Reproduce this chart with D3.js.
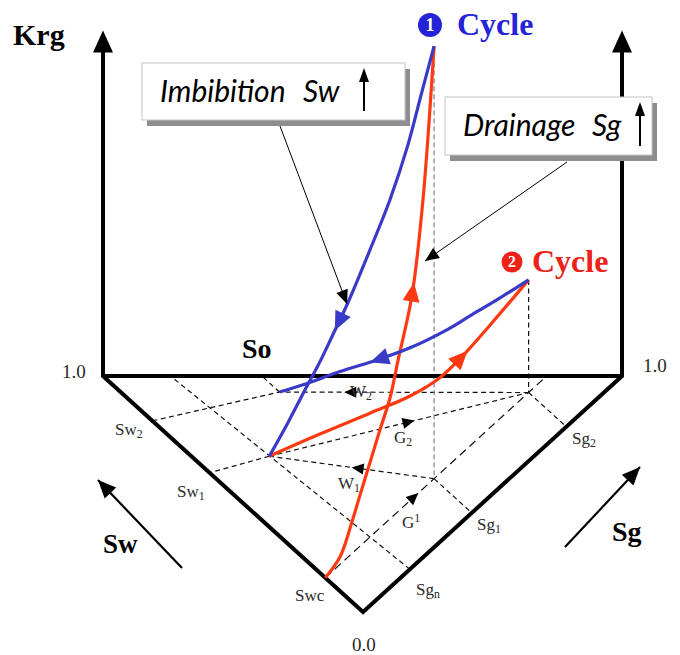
<!DOCTYPE html>
<html>
<head>
<meta charset="utf-8">
<script src="https://cdn.jsdelivr.net/npm/d3@7/dist/d3.min.js"></script>
<style>
  body { margin: 0; background: #fff; }
  svg text { font-family: "Liberation Serif", "Times New Roman", serif; }
  .box text { font-family: Lato, "Open Sans", sans-serif; font-style: italic; }
</style>
</head>
<body>
<svg id="chart" width="680" height="655"></svg>
<script>
// every point: [Sw, Sg, Krg]
const drainage1 = [
  [0.145, 0.000, 0.000], [0.145, 0.057, 0.017], [0.145, 0.103, 0.072], [0.145, 0.134, 0.116],
  [0.145, 0.173, 0.170], [0.145, 0.211, 0.223], [0.145, 0.250, 0.275], [0.145, 0.281, 0.344],
  [0.145, 0.335, 0.463], [0.145, 0.377, 0.656], [0.145, 0.420, 0.983]
];
const imbibition1 = [
  [0.145, 0.420, 0.983], [0.174, 0.399, 0.868], [0.203, 0.377, 0.750], [0.243, 0.348, 0.620],
  [0.287, 0.315, 0.500], [0.336, 0.279, 0.373], [0.369, 0.254, 0.296], [0.398, 0.233, 0.230],
  [0.431, 0.209, 0.162], [0.469, 0.180, 0.081], [0.510, 0.150, 0.000]
];
const drainage2 = [
  [0.510, 0.150, 0.000], [0.439, 0.274, 0.022], [0.368, 0.396, 0.042], [0.312, 0.495, 0.058],
  [0.270, 0.568, 0.083], [0.234, 0.629, 0.125], [0.199, 0.690, 0.175], [0.145, 0.785, 0.256]
];
const imbibition2 = [
  [0.145, 0.785, 0.256], [0.200, 0.730, 0.215], [0.258, 0.672, 0.174], [0.303, 0.628, 0.142],
  [0.374, 0.557, 0.101], [0.436, 0.495, 0.074], [0.509, 0.422, 0.047], [0.580, 0.351, 0.017],
  [0.626, 0.306, 0.000]
];

// saturation states [Sw, Sg]
const Swc = [0.145, 0], D1 = [0.145, 0.42], V1 = [0.51, 0.15], P2 = [0.145, 0.785], E2 = [0.626, 0.306];
const peak1 = 0.983, peak2 = 0.256;

// dashed construction lines [from, to]
const guides = [
  [Swc, [0.145, 0.855]],      // G' (Sw = Swc)
  [[0, 0.181], [0.87, 0.13]], // Sgn
  [V1, [0.59, 0]],            // Sw1
  [[0.81, 0], E2],            // Sw2
  [E2, [0.694, 0.306]],
  [P2, E2],                   // W2
  [V1, P2],                   // G2
  [D1, V1],                   // W1
  [D1, [0, 0.42]],            // Sg1
  [P2, [0, 0.785]]            // Sg2
];
// arrows on dashed lines: [from, to, fraction]
const guideArrows = [[P2, E2, 0.74], [V1, P2, 0.56], [D1, V1, 0.5], [Swc, [0.145, 0.855], 0.42]];

const curveArrowsAt = { drainage1: 0.55, imbibition1: 0.66, drainage2: 0.68, imbibition2: 0.62 };

const blue = "#3a3ac8", red = "#ff3a12";

// ternary + Krg projection
const swX = d3.scaleLinear().domain([0, 1]).range([0, -260]);
const sgX = d3.scaleLinear().domain([0, 1]).range([0, 259]);
const sumY = d3.scaleLinear().domain([0, 1]).range([612, 376]);
const krY = d3.scaleLinear().domain([0, 1]).range([0, 440]);
const px = (sw, sg) => 363 + swX(sw) + sgX(sg);
const py = (sw, sg, k) => sumY(sw + sg) - krY(k || 0);

const svg = d3.select("#chart");

function head(x, y, ang, len, hw, color) {
  const bx = x - len * Math.cos(ang), by = y - len * Math.sin(ang);
  const nx = -Math.sin(ang) * hw, ny = Math.cos(ang) * hw;
  svg.append("polygon")
    .attr("points", [[x, y], [bx + nx, by + ny], [bx - nx, by - ny]].map(p => p.join(",")).join(" "))
    .attr("fill", color);
}
function arrowLine(x1, y1, x2, y2, w, len, hw) {
  svg.append("line").attr("x1", x1).attr("y1", y1).attr("x2", x2).attr("y2", y2)
    .attr("stroke", "#000").attr("stroke-width", w);
  head(x2, y2, Math.atan2(y2 - y1, x2 - x1), len, hw, "#000");
}

// dashed guides
const straight = d3.line().x(d => px(d[0], d[1])).y(d => py(d[0], d[1], d[2]));
guides.forEach((g, i) => {
  svg.append("path").attr("d", straight(g)).attr("fill", "none")
    .attr("stroke", "#111").attr("stroke-width", 1.2)
    .attr("stroke-dasharray", i === 0 ? "8,5" : "5,3.5");
});
svg.append("path").attr("d", straight([[D1[0], D1[1], peak1], [D1[0], D1[1], 0]]))
  .attr("stroke", "#888").attr("stroke-width", 1.3).attr("stroke-dasharray", "5,3").attr("fill", "none");
svg.append("path").attr("d", straight([[P2[0], P2[1], peak2], [P2[0], P2[1], 0]]))
  .attr("stroke", "#111").attr("stroke-width", 1.2).attr("stroke-dasharray", "5,3.5").attr("fill", "none");
guideArrows.forEach(([a, b, f]) => {
  const x1 = px(a[0], a[1]), y1 = py(a[0], a[1]), x2 = px(b[0], b[1]), y2 = py(b[0], b[1]);
  head(x1 + (x2 - x1) * f, y1 + (y2 - y1) * f, Math.atan2(y2 - y1, x2 - x1), 12, 5.5, "#000");
});

// frame: two Krg axes, So edge and ternary triangle
const L = [px(1, 0), py(1, 0)], R = [px(0, 1), py(0, 1)], B = [px(0, 0), py(0, 0)];
const axisTop = py(1, 0, 0.785);
svg.append("path")
  .attr("d", `M${L[0]},${axisTop + 20}L${L[0]},${L[1]}L${B[0]},${B[1]}L${R[0]},${R[1]}L${R[0]},${axisTop + 20}M${L[0]},${L[1]}L${R[0]},${R[1]}`)
  .attr("fill", "none").attr("stroke", "#000").attr("stroke-width", 4).attr("stroke-linejoin", "miter");
head(L[0], axisTop, -Math.PI / 2, 22, 10, "#000");
head(R[0], axisTop, -Math.PI / 2, 22, 10, "#000");

// Krg curves
const curve = d3.line().x(d => px(d[0], d[1])).y(d => py(d[0], d[1], d[2]))
  .curve(d3.curveCatmullRom.alpha(0.5));
[["drainage1", drainage1, red], ["drainage2", drainage2, red],
 ["imbibition1", imbibition1, blue], ["imbibition2", imbibition2, blue]].forEach(([name, data, color]) => {
  const p = svg.append("path").attr("d", curve(data)).attr("fill", "none")
    .attr("stroke", color).attr("stroke-width", 3.2).attr("stroke-linejoin", "round");
  const node = p.node(), len = node.getTotalLength(), at = len * curveArrowsAt[name];
  const a = node.getPointAtLength(at - 6), b = node.getPointAtLength(at + 9);
  head(b.x, b.y, Math.atan2(b.y - a.y, b.x - a.x), 19, 8.5, color);
});

// callout boxes
function box(x, y, w, h, words, sx, ax) {
  const g = svg.append("g").attr("class", "box");
  g.append("rect").attr("x", x + 5).attr("y", y + 6).attr("width", w).attr("height", h).attr("fill", "#8e8e8e");
  g.append("rect").attr("x", x).attr("y", y).attr("width", w).attr("height", h)
    .attr("fill", "#fff").attr("stroke", "#c4c4c4").attr("stroke-width", 1);
  g.append("text").attr("x", x + 18).attr("y", y + 39).attr("font-size", 30).text(words[0]);
  g.append("text").attr("x", sx).attr("y", y + 39).attr("font-size", 30).text(words[1]);
  svg.append("line").attr("x1", ax).attr("x2", ax).attr("y1", y + h - 9).attr("y2", y + 18)
    .attr("stroke", "#000").attr("stroke-width", 2);
  head(ax, y + 5, -Math.PI / 2, 14, 5, "#000");
}
box(142, 63, 263, 57, ["Imbibition", "Sw"], 303, 364);
box(445, 97, 207, 58, ["Drainage", "Sg"], 592, 640);

arrowLine(280, 126, 347, 304, 1, 14, 6);
arrowLine(567, 162, 425, 261, 1, 14, 6);

// saturation direction arrows
arrowLine(182, 568, 98, 480, 2.2, 18, 8);
arrowLine(565, 547, 640, 467, 2.2, 18, 8);

// labels
function label(x, y, main, sub, size, opts) {
  const t = svg.append("text").attr("x", x).attr("y", y).attr("font-size", size).attr("fill", "#2a2a2a");
  t.append("tspan").text(main);
  if (sub) t.append("tspan").attr("font-size", size * 0.7).attr("dy", opts === "sup" ? -6 : 3).text(sub);
  return t;
}
label(115, 435, "Sw", "2", 17);
label(177, 497, "Sw", "1", 17);
label(295, 601, "Swc", null, 17);
label(572, 444, "Sg", "2", 17);
label(477, 530, "Sg", "1", 17);
label(416, 595, "Sg", "n", 17);
label(350, 397, "W", "2", 17);
label(338, 489, "W", "1", 17);
label(394, 443, "G", "2", 17);
label(402, 528, "G", "1", 17, "sup");
label(62, 378, "1.0", null, 19);
label(643, 372, "1.0", null, 19);
label(352, 651, "0.0", null, 19);

svg.append("text").attr("x", 242).attr("y", 358).attr("font-size", 28).attr("font-weight", "bold").text("So");
svg.append("text").attr("x", 13).attr("y", 45).attr("font-size", 30).attr("font-weight", "bold").text("Krg");
svg.append("text").attr("x", 103).attr("y", 553).attr("font-size", 27).attr("font-weight", "bold").text("Sw");
svg.append("text").attr("x", 612).attr("y", 541).attr("font-size", 28).attr("font-weight", "bold").text("Sg");

// cycle markers
function cycle(cx, cy, r, num, tx, ty, color) {
  svg.append("circle").attr("cx", cx).attr("cy", cy).attr("r", r).attr("fill", color);
  svg.append("text").attr("x", cx).attr("y", cy + r * 0.5).attr("text-anchor", "middle")
    .attr("font-size", r * 1.5).attr("font-weight", "bold").attr("fill", "#fff").text(num);
  svg.append("text").attr("x", tx).attr("y", ty).attr("font-size", 32).attr("font-weight", "bold")
    .attr("fill", color).text("Cycle");
}
cycle(430, 25, 12, "1", 457, 35, "#2424d6");
cycle(512, 262, 10.5, "2", 532, 272, "#ee2219");
</script>
</body>
</html>
